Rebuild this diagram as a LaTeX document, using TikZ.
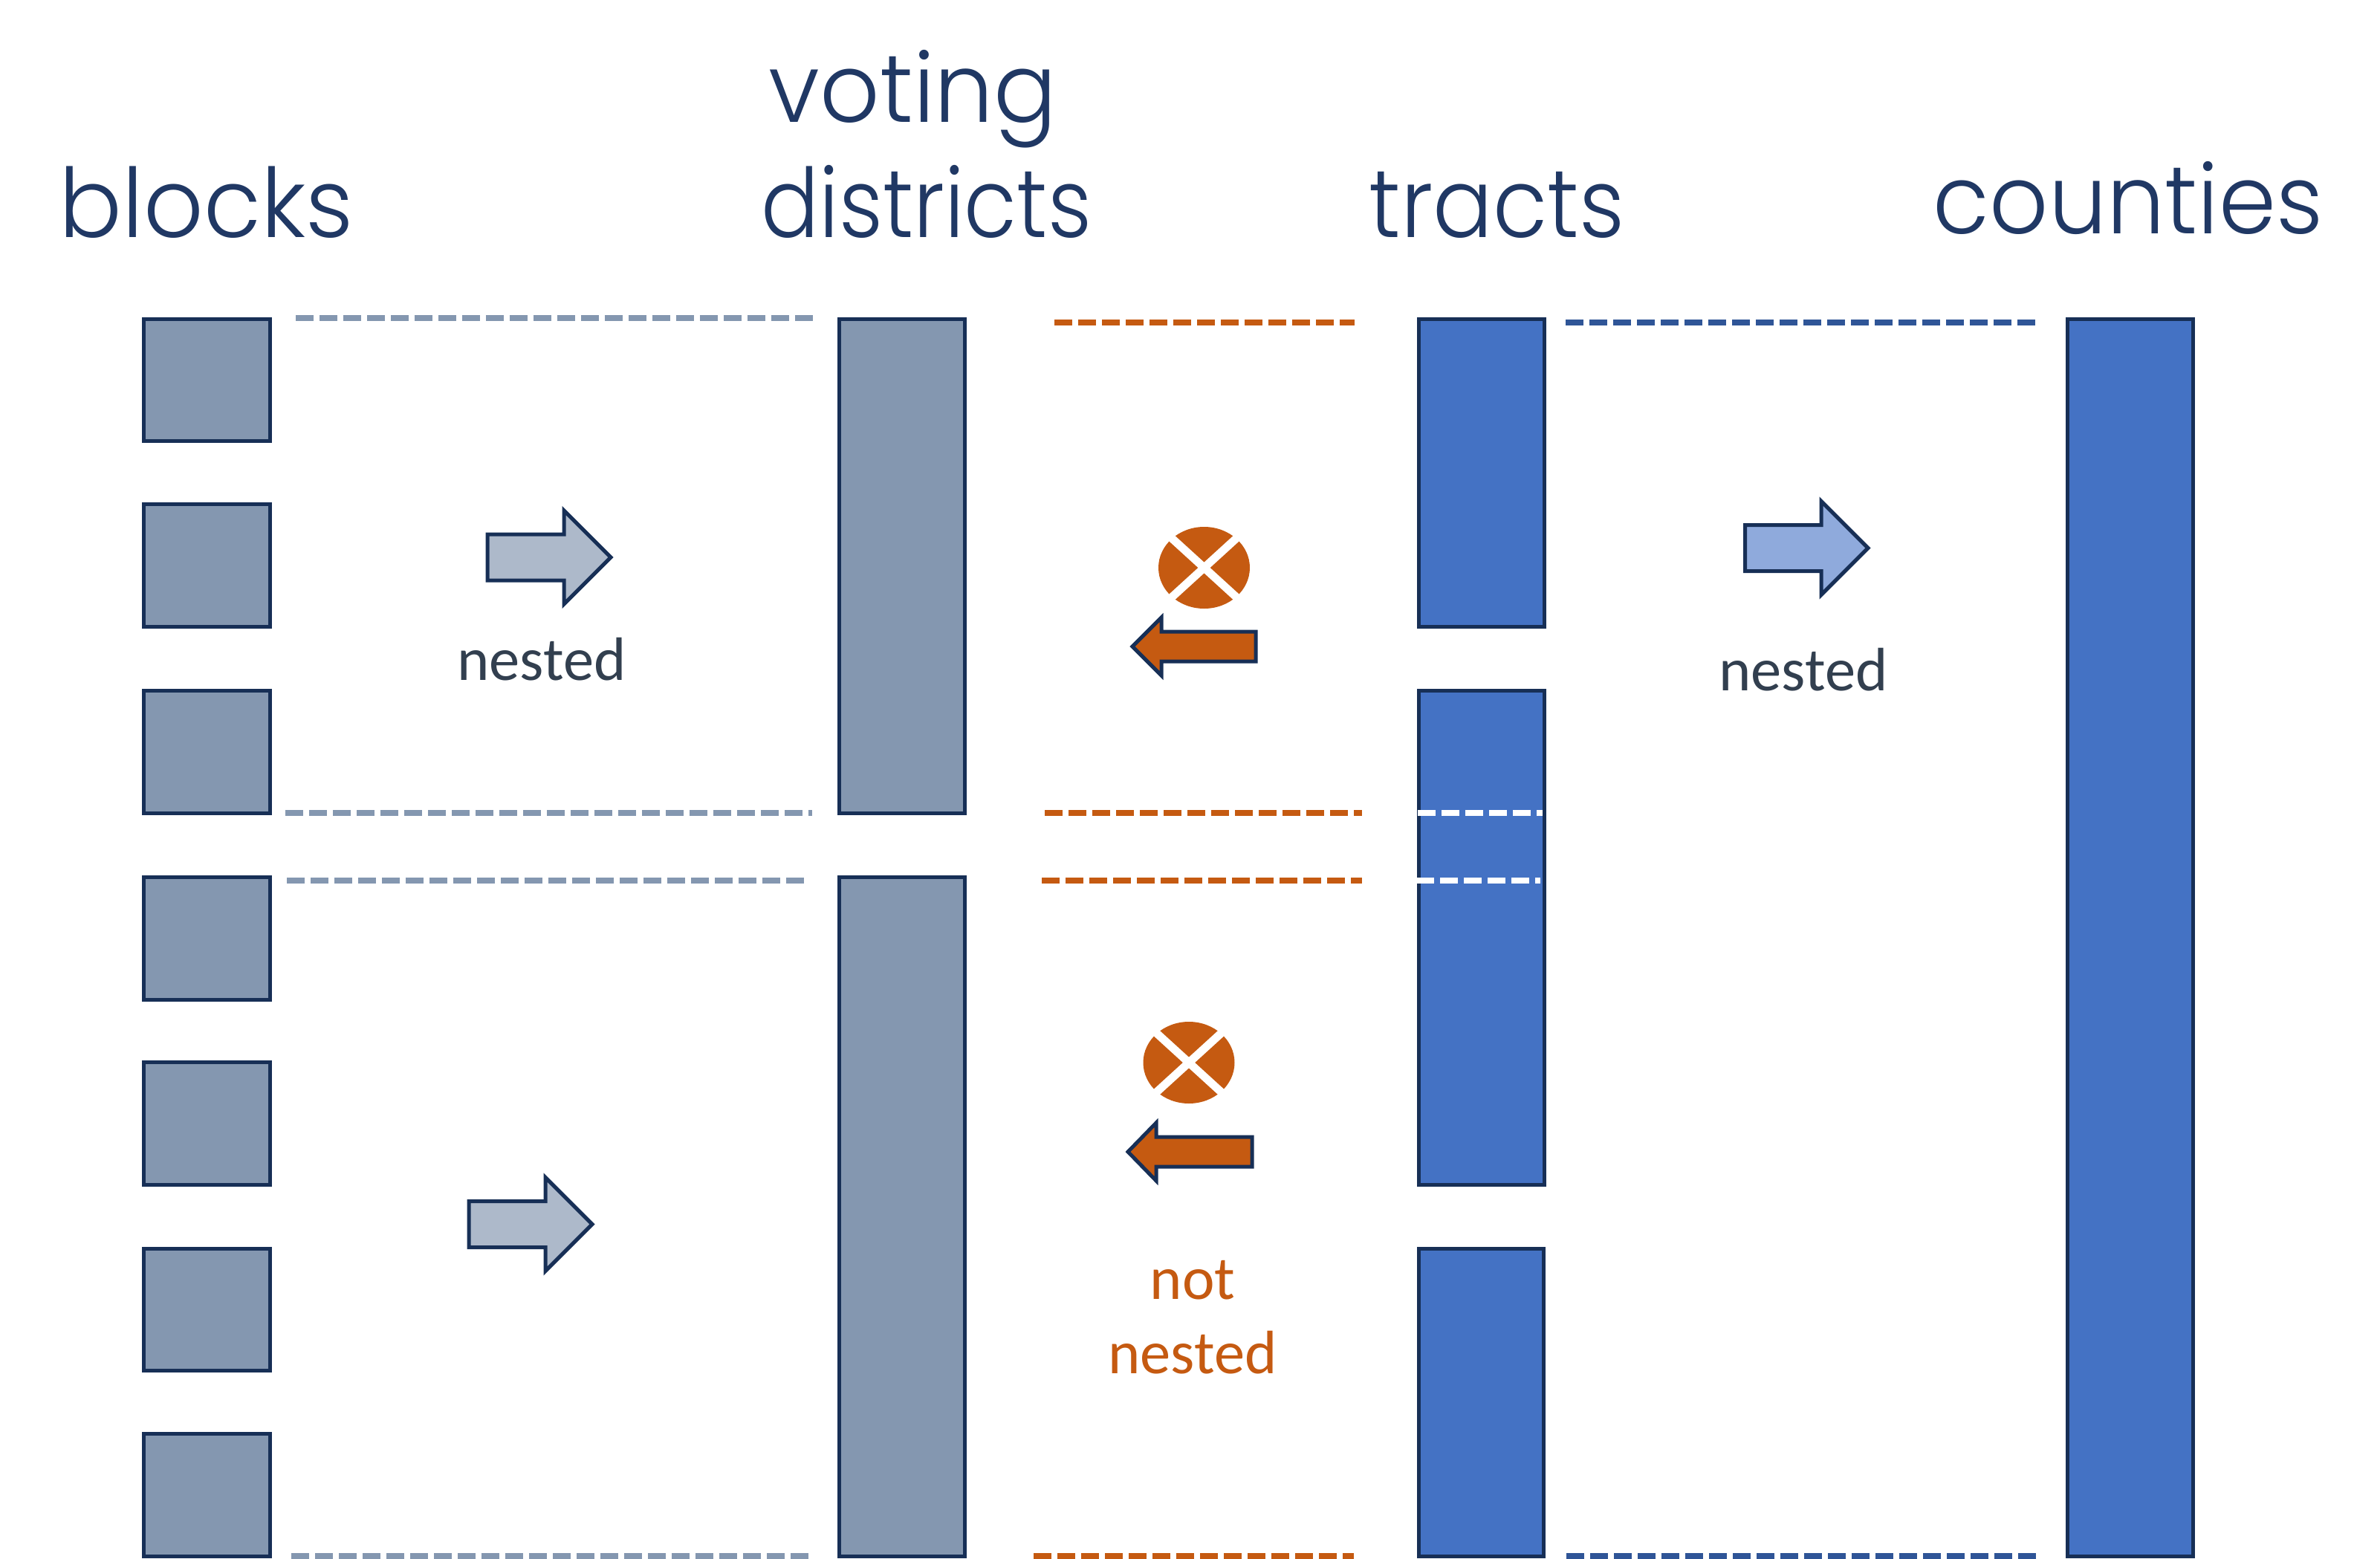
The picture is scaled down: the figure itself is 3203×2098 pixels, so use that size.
\documentclass[tikz,border=0pt]{standalone}
\usepackage{fontspec}
\setmainfont{Carlito}
\newfontfamily\hdfont{Poppins}[UprightFont=* Light]
\definecolor{outl}{HTML}{172F56}
\definecolor{greyf}{HTML}{8497B0}
\definecolor{bluef}{HTML}{4472C4}
\definecolor{orangef}{HTML}{C55A11}
\definecolor{lgrey}{HTML}{ADB9CA}
\definecolor{lblue}{HTML}{8FAADC}
\definecolor{bdash}{HTML}{2F5597}
\definecolor{headc}{HTML}{203864}
\definecolor{bodyc}{HTML}{323F4F}
\tikzset{
 px/.style={x=0.24pt,y=-0.24pt},
 gbox/.style={draw=outl,line width=1.2pt,fill=greyf},
 bbox/.style={draw=outl,line width=1.2pt,fill=bluef},
 arrowg/.style={draw=outl,line width=1.2pt,fill=lgrey,miter limit=10},
 arrowb/.style={draw=outl,line width=1.2pt,fill=lblue,miter limit=10},
 arrowo/.style={draw=outl,line width=1.2pt,fill=orangef,miter limit=10},
 dashline/.style={line width=1.95pt,dash pattern=on 5.76pt off 1.92pt},
 head/.style={font=\hdfont\fontsize{31}{31}\selectfont,text=headc,anchor=base west,inner sep=0pt},
 body/.style={font=\fontsize{19.8}{19.8}\selectfont,text=bodyc,inner sep=0pt},
 bodyo/.style={body,text=orangef},
 crossline/.style={draw=white,line width=2.6pt},
}
\newcommand{\boxat}[5]{\draw[#1] (#2,#3) rectangle (#4,#5);}
\newcommand{\rarrowat}[6]{%
 \draw[#1] (#2,#5-#6) -- (#3,#5-#6) -- (#3,#5-63) -- (#4,#5) -- (#3,#5+63) -- (#3,#5+#6) -- (#2,#5+#6) -- cycle;}
\newcommand{\larrowat}[6]{%
 \draw[#1] (#2,#5-#6) -- (#3,#5-#6) -- (#3,#5-39) -- (#4,#5) -- (#3,#5+39) -- (#3,#5+#6) -- (#2,#5+#6) -- cycle;}
\newcommand{\noentry}[2]{%
 \fill[orangef] (#1,#2) ellipse [x radius=61.5,y radius=55];
 \draw[crossline] (#1-68,#2-62) -- (#1+68,#2+62);
 \draw[crossline] (#1-68,#2+62) -- (#1+68,#2-62);}
\begin{document}
\begin{tikzpicture}[px]
\useasboundingbox (0,0) rectangle (3203,2098);
% blocks
\boxat{gbox}{193.5}{429}{363}{593}
\boxat{gbox}{193.5}{678}{363}{843}
\boxat{gbox}{193.5}{929.5}{363}{1094}
\boxat{gbox}{193.5}{1180.5}{363}{1345}
\boxat{gbox}{193.5}{1429.5}{363}{1594}
\boxat{gbox}{193.5}{1680.5}{363}{1844}
\boxat{gbox}{193.5}{1929.5}{363}{2094}
% voting districts
\boxat{gbox}{1129.5}{429}{1298}{1094}
\boxat{gbox}{1129.5}{1180.5}{1298}{2094}
% tracts
\boxat{bbox}{1909}{429}{2078}{843}
\boxat{bbox}{1909}{929.5}{2078}{1594}
\boxat{bbox}{1909}{1680.5}{2077}{2094}
% counties
\boxat{bbox}{2782.5}{429}{2951}{2094}
% dashes
\draw[dashline,greyf] (398,428) -- (1098,428);
\draw[dashline,greyf] (384,1094) -- (1093,1094);
\draw[dashline,greyf] (386,1185) -- (1085,1185);
\draw[dashline,greyf] (392,2094) -- (1091,2094);
\draw[dashline,orangef] (1419,434) -- (1823,434);
\draw[dashline,orangef] (1406,1094) -- (1833,1094);
\draw[dashline,orangef] (1402,1185) -- (1833,1185);
\draw[dashline,orangef] (1391,2094) -- (1822,2094);
\draw[dashline,bdash] (2107,434) -- (2743,434);
\draw[dashline,bdash] (2108,2094) -- (2741,2094);
\draw[dashline,white] (1908,1094) -- (2076,1094);
\draw[dashline,white] (1906,1185) -- (2073,1185);
% arrows
\rarrowat{arrowg}{656}{759}{822}{750}{31}
\rarrowat{arrowg}{631}{734}{797}{1647.5}{31}
\rarrowat{arrowb}{2348.5}{2451}{2514}{737.5}{31}
\larrowat{arrowo}{1690}{1563}{1524}{870}{20}
\larrowat{arrowo}{1685}{1556}{1518}{1550}{20}
% crossed circles
\noentry{1620.5}{764}
\noentry{1600}{1430}
% headings
\node[head,xscale=.974] (hblocks) at (79,319) {blocks};
\node[head,xscale=.974] (hvoting) at (1034,165) {voting};
\node[head,xscale=.896] (hdistricts) at (1024,319) {districts};
\node[head,xscale=.927] (htracts) at (1842,319) {tracts};
\node[head,xscale=.958] (hcounties) at (2601,314) {counties};
% labels
\node[body] (n1) at (729,887) {nested};
\node[body] (n2) at (2427,901) {nested};
\node[bodyo] (n3) at (1605,1723) {not};
\node[bodyo] (n4) at (1605,1820) {nested};
\end{tikzpicture}
\end{document}
